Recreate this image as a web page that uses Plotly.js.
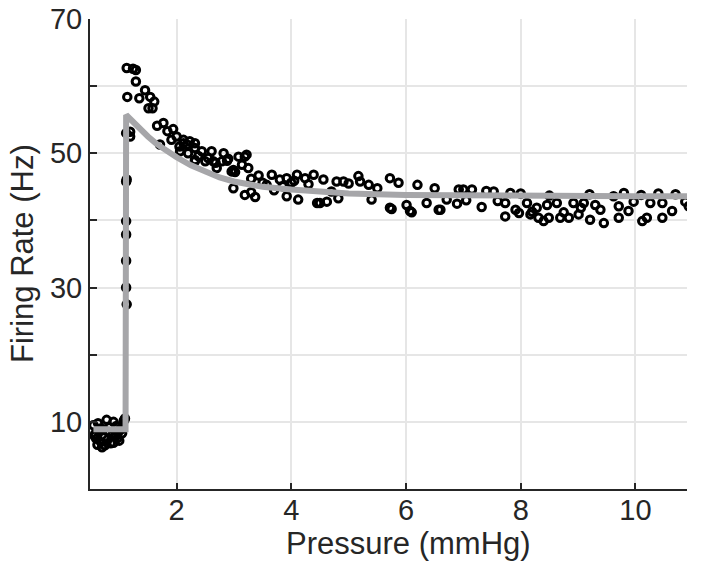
<!DOCTYPE html>
<html>
<head>
<meta charset="utf-8">
<script src="https://cdn.plot.ly/plotly-3.0.1.min.js"></script>
<style>
  body { margin: 0; background: #fff; }
  #chart { width: 704px; height: 571px; }
</style>
</head>
<body>
<div id="chart"></div>
<script>
var pressure = [
  0.55, 0.58, 0.6, 0.63, 0.65, 0.68, 0.7, 0.72, 0.75, 0.78, 0.8, 0.83, 0.85, 0.88, 0.9, 0.93, 0.95, 0.98, 1.0, 1.03, 1.05, 1.08, 1.1,
  0.57, 0.62, 0.67, 0.74, 0.82, 0.9, 0.97, 1.02,
  1.12, 1.12, 1.12, 1.12, 1.12, 1.13, 1.13, 1.12, 1.19, 1.19,
  1.13, 1.24, 1.29, 1.29, 1.14, 1.45, 1.35, 1.54, 1.61, 1.51, 1.58, 1.66, 1.77, 1.84, 1.94, 1.91, 2.0, 1.71,
  2.12, 2.06, 2.23, 2.32, 2.32, 2.12, 2.18, 2.32, 2.44, 2.32, 2.5, 2.61, 2.64, 2.7, 2.82, 2.79, 2.96, 3.08, 3.22,
  3.14, 3.25, 2.99, 3.19, 3.37, 3.43, 3.66, 3.57, 3.8, 3.92, 4.1, 4.24, 4.39, 3.92, 4.12, 4.45, 2.99, 3.19,
  2.05, 2.2, 2.38, 2.55, 2.68, 2.88, 3.02, 3.3, 3.5, 3.85, 4.05, 4.3,
  4.56, 4.79, 4.91, 5.17, 5.2, 5.35, 5.72, 5.87, 4.5, 4.62, 4.82, 5.4, 5.72, 6.01, 6.07, 6.36, 6.57, 6.71,
  5.75, 6.1, 6.6, 6.89, 6.92, 7.15, 7.32, 7.53, 7.73, 7.73, 7.82, 7.91, 7.97, 8.11, 8.17, 8.28, 8.31, 8.46,
  8.49, 8.63, 8.69, 8.84, 8.92, 9.01, 9.1, 9.21, 9.3, 9.39, 9.45, 9.62, 9.71, 9.71, 9.88, 9.97, 10.12, 10.2,
  10.26, 10.47, 10.47, 10.64, 10.87, 10.93,
  6.2, 6.5, 7.0, 7.4, 8.0, 8.5, 9.2, 9.8, 10.1, 10.4, 10.7, 5.0, 5.5, 4.7, 3.7, 4.0, 2.9, 3.3,
  8.2, 8.4, 8.75, 9.05, 7.6, 7.05
]
var rate = [
  9.5, 8.2, 7.5, 9.8, 8.6, 7.0, 6.2, 8.9, 6.5, 10.3, 7.4, 9.2, 6.8, 8.0, 10.0, 7.8, 9.4, 8.5, 7.2, 9.0, 8.3, 10.2, 10.5,
  7.9, 6.6, 9.0, 7.7, 8.5, 6.9, 7.6, 8.8,
  45.8, 39.9, 37.9, 34.0, 30.0, 27.5, 46.1, 53.0, 53.2, 52.5,
  62.7, 62.6, 62.4, 60.7, 58.4, 59.4, 58.2, 58.4, 57.7, 56.7, 56.7, 54.1, 54.5, 53.3, 53.6, 52.0, 52.5, 51.3,
  51.5, 50.3, 51.8, 50.8, 49.0, 52.0, 51.3, 51.5, 50.3, 48.8, 48.8, 50.3, 48.8, 47.8, 50.0, 48.8, 47.3, 49.5, 49.8,
  48.3, 47.8, 44.8, 43.8, 43.5, 46.7, 46.8, 45.3, 46.1, 46.3, 46.8, 46.3, 46.8, 43.6, 43.1, 42.6, 47.5, 49.5,
  51.0, 50.0, 49.6, 49.3, 48.6, 48.9, 47.2, 46.2, 45.6, 45.1, 45.9, 45.4,
  46.1, 45.8, 45.8, 46.6, 45.8, 45.3, 46.3, 45.6, 42.6, 42.8, 43.3, 43.1, 41.9, 42.3, 41.4, 42.6, 41.6, 43.1,
  41.7, 41.2, 41.6, 42.5, 44.6, 44.6, 42.0, 44.3, 42.6, 40.6, 44.1, 41.6, 41.1, 42.6, 40.9, 41.9, 40.4, 42.3,
  40.4, 42.6, 40.4, 40.4, 42.6, 40.9, 42.6, 40.1, 42.3, 41.6, 39.6, 43.6, 42.1, 40.4, 41.4, 42.8, 39.9, 40.4,
  42.6, 42.6, 40.4, 41.4, 42.8, 42.1,
  45.3, 44.8, 44.6, 44.4, 44.0, 43.7, 43.9, 44.1, 43.8, 44.0, 43.9, 45.5, 44.8, 44.3, 44.5, 45.6, 49.2, 44.2,
  41.3, 39.9, 41.2, 41.9, 42.9, 43.0
]

// model fit (grey curve)
var fitPressure = [0.55, 1.11, 1.12, 1.2, 1.35, 1.5, 1.65, 1.8, 2.0, 2.25, 2.5, 2.75, 3.0, 3.25, 3.5, 4.0, 4.5, 5, 6, 7, 8, 9, 10, 10.9]
var fitRate = [8.9, 8.9, 55.7, 55.0, 53.8, 52.5, 51.4, 50.5, 49.4, 48.2, 47.2, 46.4, 45.8, 45.3, 45.0, 44.6, 44.2, 44.0, 43.8, 43.7, 43.6, 43.6, 43.6, 43.6]

var xTicks = [2, 4, 6, 8, 10]
var yTicks = [10, 20, 30, 40, 50, 60, 70]
var yTickText = ['10', '', '30', '', '50', '', '70']

var dataTrace = {
  x: pressure,
  y: rate,
  type: 'scatter',
  mode: 'markers',
  marker: {
    symbol: 'circle-open',
    size: 7.5,
    color: '#000000',
    line: { width: 3, color: '#000000' }
  },
  hoverinfo: 'skip'
}

var fitTrace = {
  x: fitPressure,
  y: fitRate,
  type: 'scatter',
  mode: 'lines',
  line: { color: '#a6a6a9', width: 6 },
  hoverinfo: 'skip'
}

var tickFont = { family: 'Liberation Sans, Arial, sans-serif', size: 29, color: '#262626' }
var titleFont = { family: 'Liberation Sans, Arial, sans-serif', size: 31, color: '#262626' }

var layout = {
  width: 704,
  height: 571,
  margin: { l: 90, r: 17, t: 19, b: 82 },
  paper_bgcolor: '#ffffff',
  plot_bgcolor: '#ffffff',
  showlegend: false,
  font: tickFont,
  xaxis: {
    range: [0.49, 10.9],
    tickvals: xTicks,
    ticktext: xTicks.map(String),
    ticks: 'inside',
    ticklen: 6,
    tickwidth: 2,
    tickcolor: '#262626',
    ticklabelstandoff: -6,
    showline: true,
    linecolor: '#262626',
    linewidth: 2,
    showgrid: true,
    gridcolor: '#e6e6e6',
    gridwidth: 2,
    zeroline: false,
    tickfont: tickFont
  },
  yaxis: {
    range: [0, 70],
    tickvals: yTicks,
    ticktext: yTickText,
    ticks: 'inside',
    ticklen: 7,
    tickwidth: 2,
    tickcolor: '#262626',
    showline: true,
    linecolor: '#262626',
    linewidth: 2,
    showgrid: true,
    gridcolor: '#e6e6e6',
    gridwidth: 2,
    zeroline: false,
    tickfont: tickFont
  },
  annotations: [{
    text: 'Pressure (mmHg)',
    xref: 'paper', yref: 'paper',
    x: 0.534, y: -0.115,
    xanchor: 'center', yanchor: 'middle',
    showarrow: false,
    font: titleFont
  }, {
    text: 'Firing Rate (Hz)',
    xref: 'paper', yref: 'paper',
    x: -0.114, y: 0.502,
    xanchor: 'center', yanchor: 'middle',
    textangle: -90,
    showarrow: false,
    font: titleFont
  }]
}

Plotly.newPlot('chart', [dataTrace, fitTrace], layout, { displayModeBar: false, staticPlot: true })
</script>
</body>
</html>
